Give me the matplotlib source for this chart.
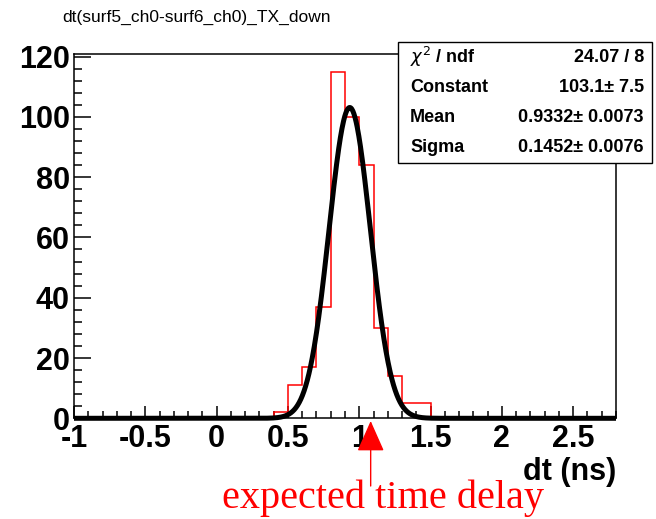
import numpy as np
import matplotlib
matplotlib.use("Agg")
import matplotlib.pyplot as plt
from matplotlib.patches import Rectangle
from matplotlib.ticker import MultipleLocator, FuncFormatter

plt.rcParams["font.family"] = ["Liberation Sans", "DejaVu Sans"]
plt.rcParams["axes.unicode_minus"] = False

# Histogram of dt = t(surf5_ch0) - t(surf6_ch0), TX down
x_range = (-1.0, 2.8)
bin_width = 0.1
first_edge = 0.4
counts = [2, 11, 17, 37, 115, 100, 84, 30, 14, 5, 5]

# Gaussian fit results
fit_constant = 103.1
fit_constant_err = 7.5
fit_mean = 0.9332
fit_mean_err = 0.0073
fit_sigma = 0.1452
fit_sigma_err = 0.0076
chi2 = 24.07
ndf = 8

expected_delay = 1.08

title = "dt(surf5_ch0-surf6_ch0)_TX_down"
x_title = "dt (ns)"
marker_text = "expected time delay"

W, H = 656, 519
fig = plt.figure(figsize=(W / 100, H / 100), dpi=100)
ax = fig.add_axes([74 / W, 1 - 418.3 / H, 542 / W, 364 / H])

edges = first_edge + bin_width * np.arange(len(counts) + 1)
ax.stairs(counts, edges, color="#ff0000", lw=1.1, baseline=0, zorder=2)

xf = np.linspace(x_range[0], x_range[1], 1000)
yf = fit_constant * np.exp(-0.5 * ((xf - fit_mean) / fit_sigma) ** 2)
ax.plot(xf, yf, color="black", lw=3.6, zorder=3, clip_on=False,
        solid_capstyle="butt")

ax.set_xlim(*x_range)
ax.set_ylim(0, 1.05 * max(counts))

for s in ax.spines.values():
    s.set_linewidth(1.1)

ax.xaxis.set_major_locator(MultipleLocator(0.5))
ax.xaxis.set_minor_locator(MultipleLocator(0.1))
ax.yaxis.set_major_locator(MultipleLocator(20))
ax.yaxis.set_minor_locator(MultipleLocator(4))
ax.xaxis.set_major_formatter(FuncFormatter(lambda v, p: f"{v:g}"))
ax.yaxis.set_major_formatter(FuncFormatter(lambda v, p: f"{v:g}"))

ax.tick_params(axis="x", which="major", direction="in", length=9, width=1.1,
               labelsize=22, pad=4, top=False)
ax.tick_params(axis="x", which="minor", direction="in", length=5, width=1.1,
               top=False)
ax.tick_params(axis="y", which="major", direction="in", length=12, width=1.1,
               labelsize=22, pad=3, right=False)
ax.tick_params(axis="y", which="minor", direction="in", length=5.5, width=1.1,
               right=False)
for lab in ax.get_xticklabels() + ax.get_yticklabels():
    lab.set_fontweight("bold")

ax.set_xlabel(x_title, loc="right", fontsize=22, fontweight="bold", labelpad=2)

fig.text(62 / W, 1 - 17 / H, title, fontsize=12.5, ha="left", va="center")

# Fit statistics box
bx0, bx1, by0, by1 = 398, 652, 42, 163
fig.patches.append(Rectangle((bx0 / W, 1 - by1 / H), (bx1 - bx0) / W,
                             (by1 - by0) / H, transform=fig.transFigure,
                             facecolor="white", edgecolor="black", lw=1.0,
                             zorder=5))
rows = [
    (r"$\chi^{2}$ / ndf", f"{chi2:.2f} / {ndf}"),
    ("Constant", f"{fit_constant:.1f}\u00b1 {fit_constant_err:.1f}"),
    ("Mean", f"{fit_mean:.4f}\u00b1 {fit_mean_err:.4f}"),
    ("Sigma", f"{fit_sigma:.4f}\u00b1 {fit_sigma_err:.4f}"),
]
row_h = (by1 - by0) / len(rows)
for i, (lab, val) in enumerate(rows):
    yc = 1 - (by0 + row_h * (i + 0.5)) / H
    fig.text(410 / W, yc, lab, fontsize=13, fontweight="bold",
             ha="left", va="center", zorder=6)
    fig.text(644 / W, yc, val, fontsize=13, fontweight="bold",
             ha="right", va="center", zorder=6)

# Expected delay marker: vertical red arrow below the axis, caption beneath
ax.annotate("", xy=(expected_delay, H - 421), xycoords=("data", "figure pixels"),
            xytext=(expected_delay, H - 486), textcoords=("data", "figure pixels"),
            annotation_clip=False,
            arrowprops=dict(arrowstyle="-|>,head_length=0.97,head_width=0.43",
                            mutation_scale=20, color="#ff0000", lw=1.0,
                            shrinkA=0, shrinkB=0))
fig.text(383 / W, 21 / H, marker_text, ha="center", va="center", fontsize=29,
         color="#ff0000", family=["Liberation Serif", "DejaVu Serif"])

fig.savefig("out.png", dpi=100)
